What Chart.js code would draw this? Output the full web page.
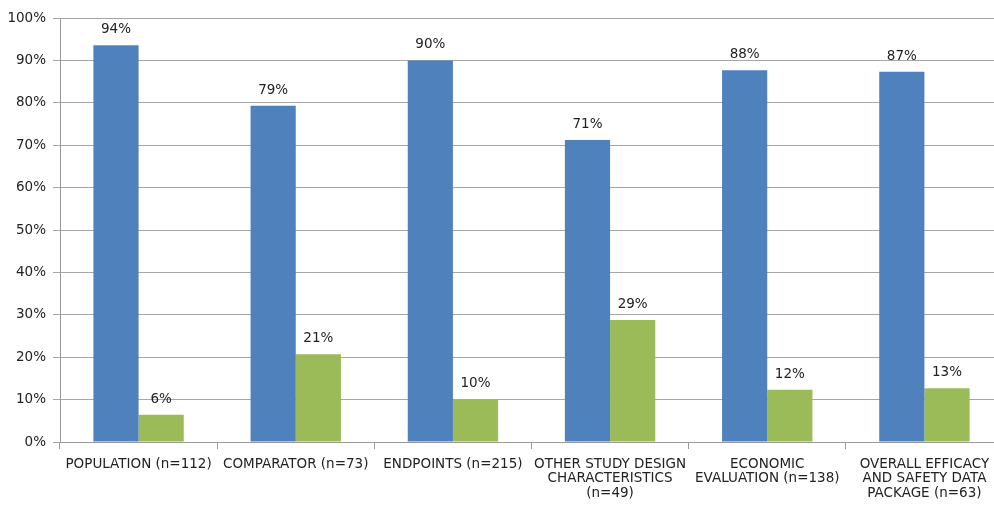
<!DOCTYPE html>
<html>
<head>
<meta charset="utf-8">
<script src="https://cdn.jsdelivr.net/npm/chart.js@4/dist/chart.umd.min.js"></script>
<style>
  html, body { margin: 0; padding: 0; background: #fff; overflow: hidden; }
  #wrap { width: 1010px; height: 512px; position: relative; }
</style>
</head>
<body>
<div id="wrap"><canvas id="chart"></canvas></div>
<script>
// categories and series
const categories = [
    'POPULATION (n=112)',
    'COMPARATOR (n=73)',
    'ENDPOINTS (n=215)',
    ['OTHER STUDY DESIGN', 'CHARACTERISTICS', '(n=49)'],
    ['ECONOMIC', 'EVALUATION (n=138)'],
    ['OVERALL EFFICACY', 'AND SAFETY DATA', 'PACKAGE (n=63)']
];
const blueValues = [93.6, 79.3, 90.0, 71.2, 87.7, 87.3];
const greenValues = [6.4, 20.7, 10.0, 28.8, 12.3, 12.7];
const yTicks = [0, 10, 20, 30, 40, 50, 60, 70, 80, 90, 100];

const FONT = 'DejaVu Sans, Verdana, sans-serif';

// draws the % label above each bar
const barLabels = {
    id: 'barLabels',
    afterDatasetsDraw(chart) {
        const ctx = chart.ctx;
        ctx.save();
        ctx.font = '13.5px ' + FONT;
        ctx.fillStyle = '#222';
        ctx.textAlign = 'center';
        ctx.textBaseline = 'bottom';
        chart.data.datasets.forEach((ds, i) => {
            chart.getDatasetMeta(i).data.forEach((bar, j) => {
                ctx.fillText(Math.round(ds.data[j]) + '%', bar.x, bar.y - 9);
            });
        });
        ctx.restore();
    }
};

new Chart(document.getElementById('chart'), {
    type: 'bar',
    data: {
        labels: categories,
        datasets: [
            { data: blueValues, backgroundColor: '#4F81BD' },
            { data: greenValues, backgroundColor: '#9BBB59' }
        ]
    },
    options: {
        responsive: true,
        maintainAspectRatio: false,
        animation: false,
        layout: { padding: { top: 18, right: 7, left: 0, bottom: 0 } },
        plugins: {
            legend: { display: false },
            tooltip: { enabled: false }
        },
        datasets: {
            bar: { categoryPercentage: 0.575, barPercentage: 1.0 }
        },
        scales: {
            x: {
                grid: {
                    offset: true,
                    drawOnChartArea: false,
                    color: '#999',
                    tickLength: 7
                },
                border: { color: '#999', width: 1 },
                ticks: {
                    color: '#222',
                    font: { family: FONT, size: 13.5, lineHeight: 1.08 },
                    maxRotation: 0,
                    autoSkip: false,
                    padding: 8
                },
                afterFit(scale) { scale.height = 70; }
            },
            y: {
                min: 0,
                max: 100,
                afterBuildTicks(scale) {
                    scale.ticks = yTicks.map(v => ({ value: v }));
                },
                grid: { color: '#A6A6A6', tickLength: 7 },
                border: { color: '#999', width: 1 },
                ticks: {
                    color: '#222',
                    font: { family: FONT, size: 13.5 },
                    padding: 7,
                    callback: v => v + '%'
                },
                afterFit(scale) { scale.width = 60; }
            }
        }
    },
    plugins: [barLabels]
});
</script>
</body>
</html>
